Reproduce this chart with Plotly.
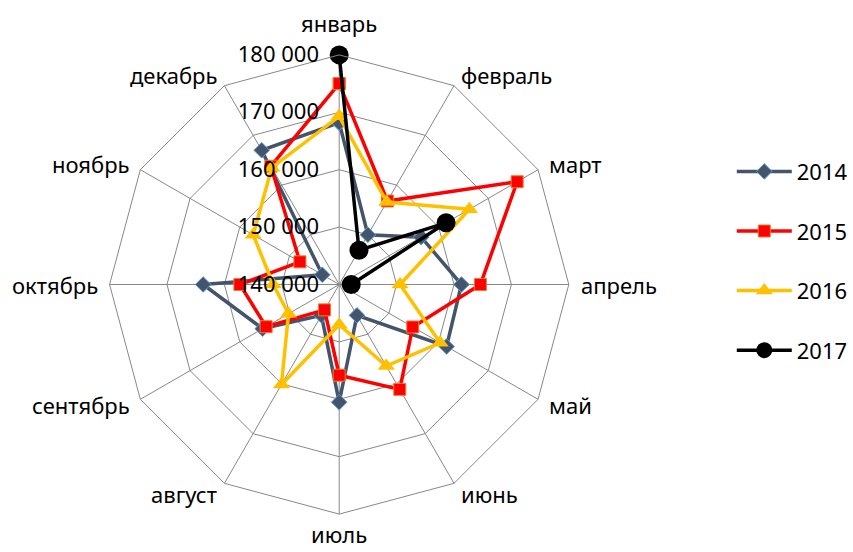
import math
import plotly.graph_objects as go

months = ["январь", "февраль", "март", "апрель", "май", "июнь",
          "июль", "август", "сентябрь", "октябрь", "ноябрь", "декабрь"]
v2014 = [168200, 150000, 156500, 161300, 161600, 146200, 160500, 146200, 155400, 163700, 143400, 167000]
v2015 = [175000, 156800, 175800, 164600, 154800, 161100, 155800, 145100, 154700, 157300, 147900, 163800]
v2016 = [169300, 156600, 166200, 150600, 160300, 156400, 147000, 160100, 150200, 151500, 157300, 163500]
v2017 = [180000, 146900, 161500, 142100]
tick_vals = [140000, 150000, 160000, 170000, 180000]
tick_text = ["140 000", "150 000", "160 000", "170 000", "180 000"]

FONT = "Noto Sans"
W, H = 853, 552
# polar placement (pixels)
CX, CY, R = 342.0, 284.5, 231.5

def closed(vals):
    return vals + vals[:1], months + months[:1]

fig = go.Figure()

r, t = closed(v2014)
fig.add_trace(go.Scatterpolar(r=r, theta=t, name="2014", mode="lines+markers", legendgroup="a",
                              line=dict(color="#44546A", width=3.5),
                              marker=dict(symbol="diamond", size=12, color="#44546A",
                                          line=dict(color="#5B9BD5", width=1))))
r, t = closed(v2015)
fig.add_trace(go.Scatterpolar(r=r, theta=t, name="2015", mode="lines+markers", legendgroup="b",
                              line=dict(color="#FF0000", width=3.5),
                              marker=dict(symbol="square", size=12, color="#FF0000",
                                          line=dict(color="#ED7D31", width=1))))
r, t = closed(v2016)
fig.add_trace(go.Scatterpolar(r=r, theta=t, name="2016", mode="lines+markers", legendgroup="c",
                              line=dict(color="#FFC000", width=3.5),
                              marker=dict(symbol="triangle-up", size=15, color="#FFC000")))
fig.add_trace(go.Scatterpolar(r=v2017, theta=months[:len(v2017)], name="2017", mode="lines+markers",
                              legendgroup="d",
                              line=dict(color="#000000", width=3.5),
                              marker=dict(symbol="circle", size=19, color="#000000")))

# category labels placed just outside each spoke end (Excel-style placement)
annotations = []
n = len(months)
for i, name in enumerate(months):
    a = 2 * math.pi * i / n
    sx, sy = math.sin(a), -math.cos(a)
    if abs(sx) < 1e-6:
        xanchor = "center"
        if sy < 0:
            d, yanchor = 13, "bottom"
        else:
            d, yanchor = 1, "top"
    else:
        d = 10
        xanchor = "left" if sx > 0 else "right"
        yanchor = "middle"
    px = CX + (R + d) * sx
    py = CY + (R + d) * sy
    annotations.append(dict(text=name, x=px / W, y=1 - py / H, xref="paper", yref="paper",
                            xanchor=xanchor, yanchor=yanchor, showarrow=False,
                            font=dict(family=FONT, size=22, color="black")))

fig.update_layout(
    width=W, height=H,
    margin=dict(l=0, r=0, t=0, b=0),
    paper_bgcolor="white",
    font=dict(family=FONT, size=22, color="black"),
    polar=dict(
        domain=dict(x=[(CX - R) / W, (CX + R) / W], y=[1 - (CY + R) / H, 1 - (CY - R) / H]),
        gridshape="linear",
        bgcolor="white",
        angularaxis=dict(categoryarray=months, categoryorder="array",
                         rotation=90, direction="clockwise",
                         showline=True, linecolor="#888888", linewidth=1,
                         gridcolor="#888888", gridwidth=1,
                         ticks="", showticklabels=False),
        radialaxis=dict(range=[140000, 180000], tickvals=tick_vals, ticktext=tick_text,
                        angle=90, tickangle=90, side="counterclockwise",
                        showline=False, ticks="outside", ticklen=12, tickcolor="rgba(0,0,0,0)",
                        gridcolor="#888888", gridwidth=1,
                        tickfont=dict(family=FONT, size=22, color="black")),
    ),
    annotations=annotations,
    legend=dict(x=0.865, y=0.527, xanchor="left", yanchor="middle",
                font=dict(family=FONT, size=22), tracegroupgap=28, itemwidth=55,
                bgcolor="rgba(0,0,0,0)"),
    showlegend=True,
)

fig.write_html("out.html", config={"displayModeBar": False},
               post_script="document.body.style.margin='0';")
